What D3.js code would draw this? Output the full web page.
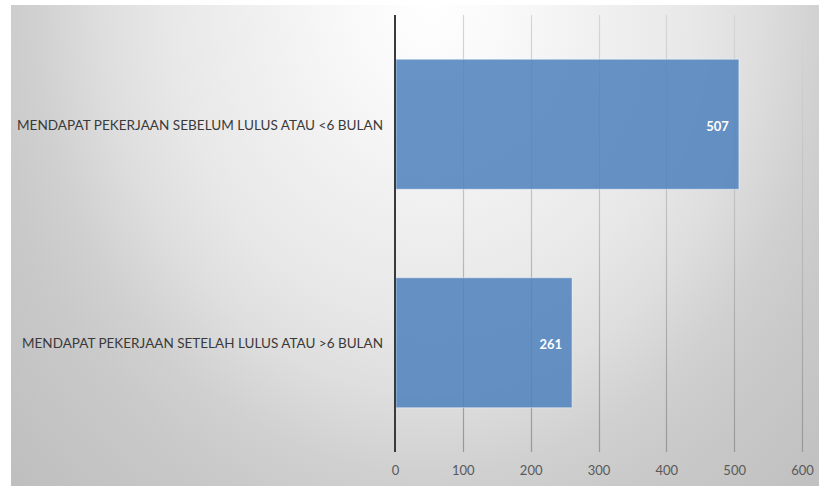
<!DOCTYPE html>
<html>
<head>
<meta charset="utf-8">
<script src="https://cdn.jsdelivr.net/npm/d3@7"></script>
<style>
  html, body { margin: 0; padding: 0; background: #ffffff; }
  svg { display: block; }
</style>
</head>
<body>
<svg id="chart" width="819" height="486"></svg>
<script>
// Graduates grouped by how soon they found a job
const categories = [
  "MENDAPAT PEKERJAAN SEBELUM LULUS ATAU <6 BULAN",
  "MENDAPAT PEKERJAAN SETELAH LULUS ATAU >6 BULAN"
];
const values = [507, 261];
const tickValues = [0, 100, 200, 300, 400, 500, 600];

const svg = d3.select("#chart");
const W = 819, H = 486;

const plot = { left: 395, right: 802, top: 15, bottom: 452 };

// Soft radial backdrop, brightest at the top centre
const defs = svg.append("defs");
const R = 585;
const grad = defs.append("radialGradient")
  .attr("id", "bg")
  .attr("gradientUnits", "userSpaceOnUse")
  .attr("cx", 430).attr("cy", 0).attr("r", R)
  .attr("fx", 430).attr("fy", 0)
  .attr("gradientTransform", "translate(430,0) scale(1,1.2) translate(-430,0)");
[[0, "#ffffff"], [0.2, "#f8f8f8"], [0.38, "#f0f0f0"], [0.58, "#e8e8e8"],
 [0.73, "#dedede"], [0.88, "#d0d0d0"], [1.0, "#c9c9c9"], [1.3, "#bebebe"]]
  .forEach(([t, c]) => grad.append("stop")
    .attr("offset", (t * 450 / R).toFixed(4)).attr("stop-color", c));

// Gridlines fade from light at the top to darker at the bottom
const gridGrad = defs.append("linearGradient")
  .attr("id", "grid")
  .attr("gradientUnits", "userSpaceOnUse")
  .attr("x1", 0).attr("y1", plot.top).attr("x2", 0).attr("y2", plot.bottom);
gridGrad.append("stop").attr("offset", 0).attr("stop-color", "#d6d6d6");
gridGrad.append("stop").attr("offset", 0.5).attr("stop-color", "#bdbdbd");
gridGrad.append("stop").attr("offset", 1).attr("stop-color", "#979797");

svg.append("rect")
  .attr("x", 11).attr("y", 5).attr("width", W - 11).attr("height", H - 5)
  .attr("fill", "url(#bg)");

const x = d3.scaleLinear().domain([0, 600]).range([plot.left, plot.right]);
const y = d3.scaleBand().domain(categories)
  .range([plot.top, plot.bottom])
  .paddingInner(0.405).paddingOuter(0.2025);

const font = "Lato, 'Open Sans', 'DejaVu Sans', sans-serif";

// Vertical gridlines
svg.append("g").selectAll("line")
  .data(tickValues.filter(d => d > 0))
  .join("line")
  .attr("x1", d => Math.round(x(d)) + 0.5).attr("x2", d => Math.round(x(d)) + 0.5)
  .attr("y1", plot.top).attr("y2", plot.bottom)
  .attr("stroke", "url(#grid)").attr("stroke-width", 1.2);

// Bars
svg.append("g").selectAll("rect")
  .data(values)
  .join("rect")
  .attr("x", x(0) + 1)
  .attr("y", (d, i) => y(categories[i]))
  .attr("width", d => x(d) - x(0) - 1)
  .attr("height", y.bandwidth())
  .attr("fill", "#4f81bd").attr("fill-opacity", 0.86)
  .attr("stroke", "#ffffff").attr("stroke-opacity", 0.45).attr("stroke-width", 1);

// Value labels inside the bar ends
svg.append("g").selectAll("text")
  .data(values)
  .join("text")
  .attr("x", d => x(d) - 10)
  .attr("y", (d, i) => y(categories[i]) + y.bandwidth() / 2 + 2)
  .attr("dy", "0.35em")
  .attr("text-anchor", "end")
  .attr("font-family", font).attr("font-size", 13).attr("font-weight", "bold")
  .attr("fill", "#ffffff")
  .text(d => d);

// Category axis line at zero
svg.append("line")
  .attr("x1", x(0)).attr("x2", x(0))
  .attr("y1", plot.top).attr("y2", plot.bottom)
  .attr("stroke", "#3a3a3a").attr("stroke-width", 2);

// Category labels
const labelWidths = [366, 361];
svg.append("g").selectAll("text")
  .data(categories)
  .join("text")
  .attr("x", 383)
  .attr("y", d => y(d) + y.bandwidth() / 2 + 1)
  .attr("dy", "0.35em")
  .attr("text-anchor", "end")
  .attr("font-family", font).attr("font-size", 13)
  .attr("fill", "#3a3a3a")
  .attr("textLength", (d, i) => labelWidths[i])
  .attr("lengthAdjust", "spacingAndGlyphs")
  .text(d => d);

// Value axis tick labels
const axis = d3.axisBottom(x).tickValues(tickValues).tickSize(0).tickPadding(0)
  .tickFormat(d3.format("d"));
const gAxis = svg.append("g")
  .attr("transform", `translate(0, ${plot.bottom + 14})`)
  .call(axis);
gAxis.select(".domain").remove();
gAxis.selectAll("text")
  .attr("font-family", font).attr("font-size", 13)
  .attr("fill", "#595959")
  .attr("dy", "0.71em");
</script>
</body>
</html>
